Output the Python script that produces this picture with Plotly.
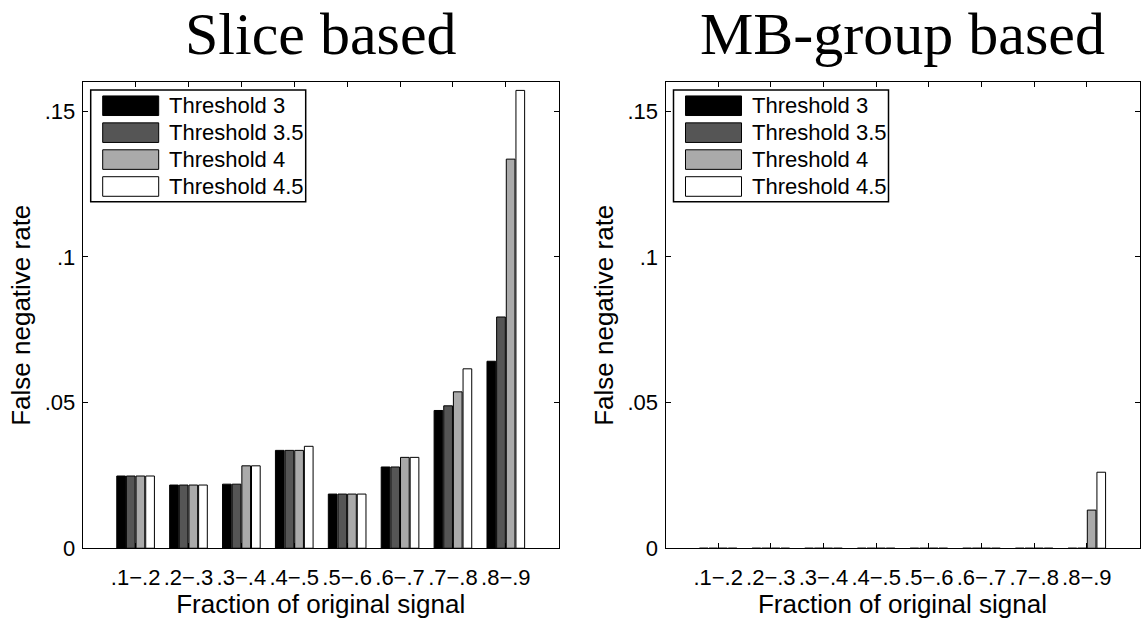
import plotly.graph_objects as go

W, H = 1141, 619

categories = [".1\u2212.2", ".2\u2212.3", ".3\u2212.4", ".4\u2212.5",
              ".5\u2212.6", ".6\u2212.7", ".7\u2212.8", ".8\u2212.9"]
series_names = ["Threshold 3", "Threshold 3.5", "Threshold 4", "Threshold 4.5"]
series_colors = ["#000000", "#555555", "#aaaaaa", "#ffffff"]

slice_t3 = [0.0248, 0.0217, 0.0220, 0.0336, 0.0186, 0.0279, 0.0473, 0.0642]
slice_t35 = [0.0248, 0.0217, 0.0220, 0.0336, 0.0186, 0.0279, 0.0489, 0.0794]
slice_t4 = [0.0248, 0.0217, 0.0283, 0.0336, 0.0186, 0.0312, 0.0537, 0.1336]
slice_t45 = [0.0248, 0.0217, 0.0283, 0.0350, 0.0186, 0.0312, 0.0616, 0.1572]

mb_t3 = [0, 0, 0, 0, 0, 0, 0, 0]
mb_t35 = [0, 0, 0, 0, 0, 0, 0, 0]
mb_t4 = [0, 0, 0, 0, 0, 0, 0, 0.0131]
mb_t45 = [0, 0, 0, 0, 0, 0, 0, 0.0261]

ytick_vals = [0, 0.05, 0.1, 0.15]
ytick_text = ["0", ".05", ".1", ".15"]

titles = ["Slice based", "MB-group based"]
xlabel = "Fraction of original signal"
ylabel = "False negative rate"

positions = list(range(1, len(categories) + 1))

def xp(px):
    return px / W

def yp(py):
    return 1 - py / H

ax_left = [(82.7, 558.7), (665.5, 1139.5)]
ax_top, ax_bot = 84, 560

fig = go.Figure()
panels = [[slice_t3, slice_t35, slice_t4, slice_t45], [mb_t3, mb_t35, mb_t4, mb_t45]]
for p, panel in enumerate(panels):
    xa = "x" if p == 0 else "x2"
    ya = "y" if p == 0 else "y2"
    for name, color, vals in zip(series_names, series_colors, panel):
        fig.add_trace(go.Bar(
            x=positions, y=vals, name=name, xaxis=xa, yaxis=ya,
            marker=dict(color=color, line=dict(color="#000000", width=1)),
            showlegend=False,
        ))

font = "Liberation Sans, Arial, sans-serif"
axis_common = dict(
    showline=True, linecolor="#000000", linewidth=1, mirror="ticks",
    ticks="inside", ticklen=5, tickcolor="#000000", showgrid=False, zeroline=False,
    tickfont=dict(family=font, size=22, color="#000000"),
)

layout = dict(
    width=W, height=H, margin=dict(l=0, r=0, t=0, b=0),
    paper_bgcolor="#ffffff", plot_bgcolor="#ffffff",
    barmode="group", bargap=0.27, bargroupgap=0.1,
    showlegend=False,
)
for p in range(2):
    sfx = "" if p == 0 else "2"
    x0, x1 = ax_left[p]
    layout["xaxis" + sfx] = dict(
        axis_common, domain=[xp(x0), xp(x1)], range=[0, 9],
        tickvals=positions, ticktext=categories, ticklabelstandoff=9,
        anchor="y" + sfx,
        title=dict(text=xlabel, font=dict(family=font, size=26, color="#000000"), standoff=3),
    )
    layout["yaxis" + sfx] = dict(
        axis_common, domain=[yp(ax_bot), yp(ax_top)], range=[0, 0.16],
        tickvals=ytick_vals, ticktext=ytick_text, ticklabelstandoff=2,
        anchor="x" + sfx,
        title=dict(text=ylabel, font=dict(family=font, size=26, color="#000000"), standoff=6),
    )
fig.update_layout(**layout)

shapes = []
annotations = []
for p in range(2):
    x0, x1 = ax_left[p]
    annotations.append(dict(
        text=titles[p], x=xp((x0 + x1) / 2), y=yp(35), xref="paper", yref="paper",
        xanchor="center", yanchor="middle", showarrow=False,
        font=dict(family="Liberation Serif, Times New Roman, serif", size=60, color="#000000"),
    ))
    # legend box
    bx0, bx1 = x0 + 8, x0 + 223
    by0, by1 = 92, 206
    shapes.append(dict(type="rect", xref="paper", yref="paper",
                       x0=xp(bx0), x1=xp(bx1), y0=yp(by1), y1=yp(by0),
                       line=dict(color="#000000", width=1.5), fillcolor="#ffffff"))
    for i, (name, color) in enumerate(zip(series_names, series_colors)):
        cy = 108 + i * 27.5
        shapes.append(dict(type="rect", xref="paper", yref="paper",
                           x0=xp(x0 + 20), x1=xp(x0 + 76), y0=yp(cy + 10), y1=yp(cy - 10),
                           line=dict(color="#000000", width=1), fillcolor=color))
        annotations.append(dict(
            text=name, x=xp(x0 + 84), y=yp(cy), xref="paper", yref="paper",
            xanchor="left", yanchor="middle", showarrow=False,
            font=dict(family=font, size=22, color="#000000"),
        ))
fig.update_layout(shapes=shapes, annotations=annotations)

fig.write_html("out.html")
